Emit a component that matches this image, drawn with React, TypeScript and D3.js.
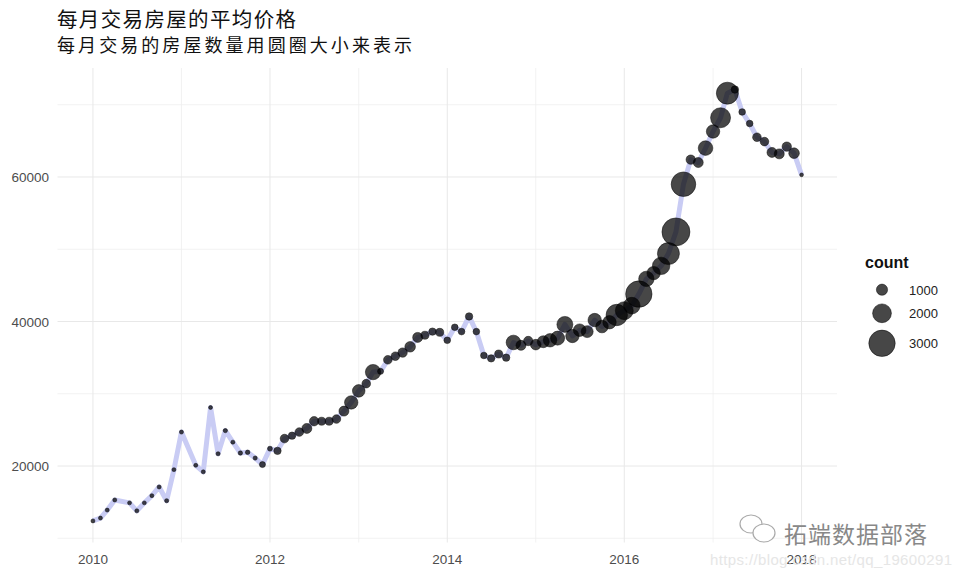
import * as d3 from "d3";
import { useEffect, useRef } from "react";

// monthly data (two months have no record in the source)
const months: string[] = [
  "2010-01", "2010-02", "2010-03", "2010-04", "2010-06", "2010-07", "2010-08", "2010-09", "2010-10", "2010-11", "2010-12",
  "2011-01", "2011-03", "2011-04", "2011-05", "2011-06", "2011-07", "2011-08", "2011-09", "2011-10", "2011-11", "2011-12",
  "2012-01", "2012-02", "2012-03", "2012-04", "2012-05", "2012-06", "2012-07", "2012-08", "2012-09", "2012-10", "2012-11", "2012-12",
  "2013-01", "2013-02", "2013-03", "2013-04", "2013-05", "2013-06", "2013-07", "2013-08", "2013-09", "2013-10", "2013-11", "2013-12",
  "2014-01", "2014-02", "2014-03", "2014-04", "2014-05", "2014-06", "2014-07", "2014-08", "2014-09", "2014-10", "2014-11", "2014-12",
  "2015-01", "2015-02", "2015-03", "2015-04", "2015-05", "2015-06", "2015-07", "2015-08", "2015-09", "2015-10", "2015-11", "2015-12",
  "2016-01", "2016-02", "2016-03", "2016-04", "2016-05", "2016-06", "2016-07", "2016-08", "2016-09", "2016-10", "2016-11", "2016-12",
  "2017-01", "2017-02", "2017-03", "2017-04", "2017-05", "2017-06", "2017-07", "2017-08", "2017-09", "2017-10", "2017-11", "2017-12",
  "2018-01",
];

const prices: number[] = [
  12400, 12800, 13900, 15300, 14900, 13800, 14900, 15900, 17100, 15200, 19500,
  24700, 20100, 19200, 28100, 21700, 24900, 23300, 21800, 21900, 21100, 20200,
  22400, 22100, 23800, 24200, 24700, 25200, 26200, 26200, 26200, 26500, 27600, 28800,
  30400, 31400, 33000, 33100, 34700, 35200, 35700, 36500, 37800, 38100, 38600, 38500,
  37400, 39200, 38600, 40700, 38600, 35300, 34900, 35500, 35000, 37100, 36700, 37300,
  36800, 37200, 37400, 37700, 39600, 38000, 38800, 38600, 40200, 39300, 39900, 40900,
  41500, 42200, 43800, 45900, 46700, 47700, 49400, 52400, 59000, 62400, 62000, 64000,
  66300, 68200, 71600, 72100, 69000, 67400, 65500, 64900, 63400, 63200, 64200, 63300,
  60300,
];

const counts: number[] = [
  50, 50, 50, 60, 50, 60, 50, 50, 60, 70, 50,
  60, 50, 60, 40, 70, 90, 60, 100, 120, 80, 320,
  180, 500, 660, 500, 660, 840, 760, 580, 580, 660, 840, 1290,
  1180, 660, 1550, 320, 660, 660, 760, 920, 840, 580, 500, 580,
  400, 400, 400, 500, 400, 400, 500, 580, 500, 1450, 840, 760,
  920, 1100, 1290, 1370, 1630, 1290, 1180, 1100, 1290, 1180, 1290, 2340,
  1890, 1710, 3000, 1550, 1290, 1820, 2420, 3210, 2760, 760, 840, 1450,
  1290, 2160, 2420, 500, 400, 400, 660, 660, 840, 840, 760, 920,
  20,
];

const yMajor: number[] = [20000, 40000, 60000];
const yMinor: number[] = [10000, 30000, 50000, 70000];
const xMajor: number[] = [2010, 2012, 2014, 2016, 2018];
const xMinor: number[] = [2011, 2013, 2015, 2017];
const legendValues: number[] = [1000, 2000, 3000];

const title = "每月交易房屋的平均价格";
const subtitle = "每月交易的房屋数量用圆圈大小来表示";

export default function App() {
  const width = 960;
  const height = 576;
  const panelLeft = 57.5;
  const panelRight = 837;
  const panelTop = 68;
  const panelBottom = 542.5;

  const svgRef = useRef<SVGSVGElement>(null);

  useEffect(() => {
    const svgEl = d3.select(svgRef.current);
    svgEl.selectAll("*").remove();

    const parse = d3.timeParse("%Y-%m");
    const data = months.map((m, i) => ({ date: parse(m) as Date, price: prices[i], count: counts[i] }));

    // ggplot-like 5% expansion
    const [t0, t1] = d3.extent(data, d => +d.date) as [number, number];
    const tPad = (t1 - t0) * 0.05;
    const xScale = d3.scaleTime([new Date(t0 - tPad), new Date(t1 + tPad)], [panelLeft, panelRight]);

    const [p0, p1] = d3.extent(prices) as [number, number];
    const pPad = (p1 - p0) * 0.05;
    const yScale = d3.scaleLinear([p0 - pPad, p1 + pPad], [panelBottom, panelTop]);

    const rScale = d3.scaleLinear([0, 3000], [1.8, 13.2]);
    const yearDate = (y: number) => new Date(y, 0, 1);

    const grid = svgEl.append("g");
    // minor grid
    grid.selectAll(".ymin").data(yMinor).join("line")
      .attr("x1", panelLeft).attr("x2", panelRight)
      .attr("y1", d => yScale(d)).attr("y2", d => yScale(d))
      .attr("stroke", "#efefef").attr("stroke-width", 0.8);
    grid.selectAll(".xmin").data(xMinor).join("line")
      .attr("x1", d => xScale(yearDate(d))).attr("x2", d => xScale(yearDate(d)))
      .attr("y1", panelTop).attr("y2", panelBottom)
      .attr("stroke", "#efefef").attr("stroke-width", 0.8);
    // major grid
    grid.selectAll(".ymaj").data(yMajor).join("line")
      .attr("x1", panelLeft).attr("x2", panelRight)
      .attr("y1", d => yScale(d)).attr("y2", d => yScale(d))
      .attr("stroke", "#e8e8e8").attr("stroke-width", 1);
    grid.selectAll(".xmaj").data(xMajor).join("line")
      .attr("x1", d => xScale(yearDate(d))).attr("x2", d => xScale(yearDate(d)))
      .attr("y1", panelTop).attr("y2", panelBottom)
      .attr("stroke", "#e8e8e8").attr("stroke-width", 1);

    // axis labels
    svgEl.append("g").selectAll("text").data(yMajor).join("text")
      .attr("x", 49).attr("y", d => yScale(d) + 5)
      .attr("text-anchor", "end")
      .attr("font-family", "Liberation Sans, Arial, sans-serif")
      .attr("font-size", 13.5).attr("fill", "#4d4d4d")
      .text(d => String(d));

    svgEl.append("g").selectAll("text").data(xMajor).join("text")
      .attr("x", d => xScale(yearDate(d))).attr("y", 564)
      .attr("text-anchor", "middle")
      .attr("font-family", "Liberation Sans, Arial, sans-serif")
      .attr("font-size", 13.5).attr("fill", "#4d4d4d")
      .text(d => String(d));

    // price line
    const line = d3.line<any>(d => xScale(d.date), d => yScale(d.price));
    svgEl.append("path")
      .attr("d", line(data))
      .attr("fill", "none")
      .attr("stroke", "#c9ccf4")
      .attr("stroke-width", 5)
      .attr("stroke-linejoin", "round");

    // points sized by count
    svgEl.append("g").selectAll("circle").data(data).join("circle")
      .attr("cx", d => xScale(d.date))
      .attr("cy", d => yScale(d.price))
      .attr("r", d => rScale(d.count))
      .attr("fill", "#000").attr("fill-opacity", 0.72)
      .attr("stroke", "#000").attr("stroke-opacity", 0.6).attr("stroke-width", 0.8);

    // titles
    svgEl.append("text")
      .attr("x", 57).attr("y", 27)
      .attr("font-family", "Noto Sans CJK SC, sans-serif")
      .attr("font-size", 20.5).attr("fill", "#111")
      .attr("textLength", 239).attr("lengthAdjust", "spacing")
      .text(title);
    svgEl.append("text")
      .attr("x", 57).attr("y", 52)
      .attr("font-family", "Noto Sans CJK SC, sans-serif")
      .attr("font-size", 18).attr("fill", "#111")
      .attr("textLength", 355).attr("lengthAdjust", "spacing")
      .text(subtitle);

    // legend
    const legend = svgEl.append("g");
    legend.append("text")
      .attr("x", 865).attr("y", 268)
      .attr("font-family", "Liberation Sans, Arial, sans-serif")
      .attr("font-size", 16).attr("font-weight", "bold").attr("fill", "#111")
      .text("count");
    const keyY = [289.7, 313.3, 343.3];
    legend.selectAll("circle").data(legendValues).join("circle")
      .attr("cx", 882).attr("cy", (d, i) => keyY[i])
      .attr("r", d => rScale(d))
      .attr("fill", "#000").attr("fill-opacity", 0.72)
      .attr("stroke", "#000").attr("stroke-opacity", 0.6).attr("stroke-width", 0.8);
    legend.selectAll(".lab").data(legendValues).join("text")
      .attr("x", 909).attr("y", (d, i) => keyY[i] + 5)
      .attr("font-family", "Liberation Sans, Arial, sans-serif")
      .attr("font-size", 13).attr("fill", "#222")
      .text(d => String(d));

    // watermark
    const wm = svgEl.append("g");
    wm.append("ellipse").attr("cx", 751).attr("cy", 524).attr("rx", 11).attr("ry", 9)
      .attr("fill", "#fff").attr("stroke", "#aaa").attr("stroke-width", 1.2);
    wm.append("ellipse").attr("cx", 764).attr("cy", 533).attr("rx", 11).attr("ry", 9)
      .attr("fill", "#fff").attr("stroke", "#aaa").attr("stroke-width", 1.2);
    wm.append("text")
      .attr("x", 784).attr("y", 543)
      .attr("font-family", "Noto Sans CJK SC, sans-serif")
      .attr("font-size", 23).attr("fill", "#888")
      .attr("textLength", 143).attr("lengthAdjust", "spacing")
      .text("拓端数据部落");
    wm.append("text")
      .attr("x", 710).attr("y", 565)
      .attr("font-family", "Liberation Sans, Arial, sans-serif")
      .attr("font-size", 15).attr("fill", "#e6e6e6")
      .attr("textLength", 242)
      .text("https://blog.csdn.net/qq_19600291");
  }, []);

  return (
    <div style={{ position: "absolute", left: 0, top: 0 }}>
      <svg
        ref={svgRef}
        width={width}
        height={height}
        xmlns="http://www.w3.org/2000/svg"
        style={{ display: "block", background: "#fff" }}
      >
      </svg>
    </div>
  );
}
